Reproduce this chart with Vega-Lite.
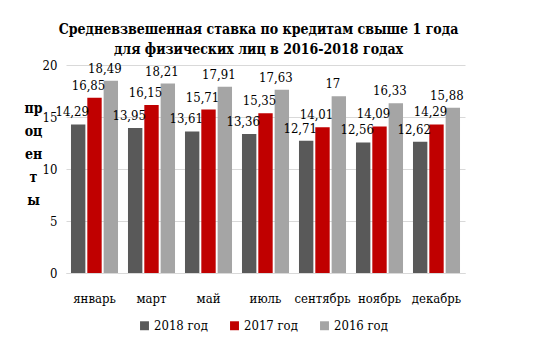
{
  "$schema": "https://vega.github.io/schema/vega-lite/v6.json",
  "width": 399,
  "height": 208,
  "autosize": "none",
  "padding": {"left": 66, "top": 65, "right": 80, "bottom": 88},
  "background": "white",
  "title": {
    "text": ["Средневзвешенная ставка по кредитам свыше 1 года", "для физических лиц в 2016-2018 годах"],
    "font": "DejaVu Serif Condensed",
    "fontSize": 14,
    "fontWeight": "bold",
    "color": "black",
    "anchor": "middle",
    "dx": -7,
    "lineHeight": 20,
    "offset": 2
  },
  "config": {
    "view": {"stroke": null},
    "font": "DejaVu Serif Condensed"
  },
  "data": {
    "values": [
      {"month": "январь", "year": "2018 год", "value": 14.29, "label": "14,29"},
      {"month": "январь", "year": "2017 год", "value": 16.85, "label": "16,85"},
      {"month": "январь", "year": "2016 год", "value": 18.49, "label": "18,49"},
      {"month": "март", "year": "2018 год", "value": 13.95, "label": "13,95"},
      {"month": "март", "year": "2017 год", "value": 16.15, "label": "16,15"},
      {"month": "март", "year": "2016 год", "value": 18.21, "label": "18,21"},
      {"month": "май", "year": "2018 год", "value": 13.61, "label": "13,61"},
      {"month": "май", "year": "2017 год", "value": 15.71, "label": "15,71"},
      {"month": "май", "year": "2016 год", "value": 17.91, "label": "17,91"},
      {"month": "июль", "year": "2018 год", "value": 13.36, "label": "13,36"},
      {"month": "июль", "year": "2017 год", "value": 15.35, "label": "15,35"},
      {"month": "июль", "year": "2016 год", "value": 17.63, "label": "17,63"},
      {"month": "сентябрь", "year": "2018 год", "value": 12.71, "label": "12,71"},
      {"month": "сентябрь", "year": "2017 год", "value": 14.01, "label": "14,01"},
      {"month": "сентябрь", "year": "2016 год", "value": 17, "label": "17"},
      {"month": "ноябрь", "year": "2018 год", "value": 12.56, "label": "12,56"},
      {"month": "ноябрь", "year": "2017 год", "value": 14.09, "label": "14,09"},
      {"month": "ноябрь", "year": "2016 год", "value": 16.33, "label": "16,33"},
      {"month": "декабрь", "year": "2018 год", "value": 12.62, "label": "12,62"},
      {"month": "декабрь", "year": "2017 год", "value": 14.29, "label": "14,29"},
      {"month": "декабрь", "year": "2016 год", "value": 15.88, "label": "15,88"}
    ]
  },
  "encoding": {
    "x": {
      "field": "month",
      "type": "nominal",
      "sort": ["январь", "март", "май", "июль", "сентябрь", "ноябрь", "декабрь"],
      "scale": {"paddingInner": 0.175, "paddingOuter": 0.0875},
      "axis": {
        "title": null,
        "labelAngle": 0,
        "labelFont": "DejaVu Serif Condensed",
        "labelFontSize": 13,
        "labelColor": "black",
        "labelPadding": 19,
        "labelOverlap": false,
        "ticks": false,
        "domainColor": "#D9D9D9"
      }
    },
    "xOffset": {
      "field": "year",
      "type": "nominal",
      "sort": ["2018 год", "2017 год", "2016 год"],
      "scale": {"paddingInner": 0.12, "paddingOuter": 0}
    },
    "y": {
      "field": "value",
      "type": "quantitative",
      "scale": {"domain": [0, 20]},
      "axis": {
        "values": [0, 5, 10, 15, 20],
        "title": ["пр", "оц", "ен", "т", "ы"],
        "titleAngle": 0,
        "titleFont": "DejaVu Serif Condensed",
        "titleFontSize": 14,
        "titleFontWeight": "bold",
        "titleColor": "black",
        "titleLineHeight": 23,
        "titleAlign": "center",
        "titleBaseline": "top",
        "titleX": -33,
        "titleY": 36,
        "labelFont": "DejaVu Serif Condensed",
        "labelFontSize": 13,
        "labelColor": "black",
        "labelPadding": 9,
        "ticks": false,
        "domain": false,
        "gridColor": "#D9D9D9"
      }
    }
  },
  "layer": [
    {
      "mark": {"type": "bar"},
      "encoding": {
        "color": {
          "field": "year",
          "type": "nominal",
          "scale": {"domain": ["2018 год", "2017 год", "2016 год"], "range": ["#595959", "#C00000", "#A5A5A5"]},
          "legend": {
            "title": null,
            "orient": "none",
            "legendX": 72,
            "legendY": 254,
            "direction": "horizontal",
            "symbolType": "square",
            "symbolSize": 80,
            "symbolStrokeWidth": 0,
            "labelFont": "DejaVu Serif Condensed",
            "labelFontSize": 13,
            "labelColor": "black",
            "labelOffset": 3,
            "columnPadding": 20
          }
        }
      }
    },
    {
      "mark": {"type": "text", "font": "DejaVu Serif Condensed", "fontSize": 13, "baseline": "bottom", "dy": -5, "dx": -6, "color": "black"},
      "encoding": {
        "text": {"field": "label"}
      }
    }
  ]
}
